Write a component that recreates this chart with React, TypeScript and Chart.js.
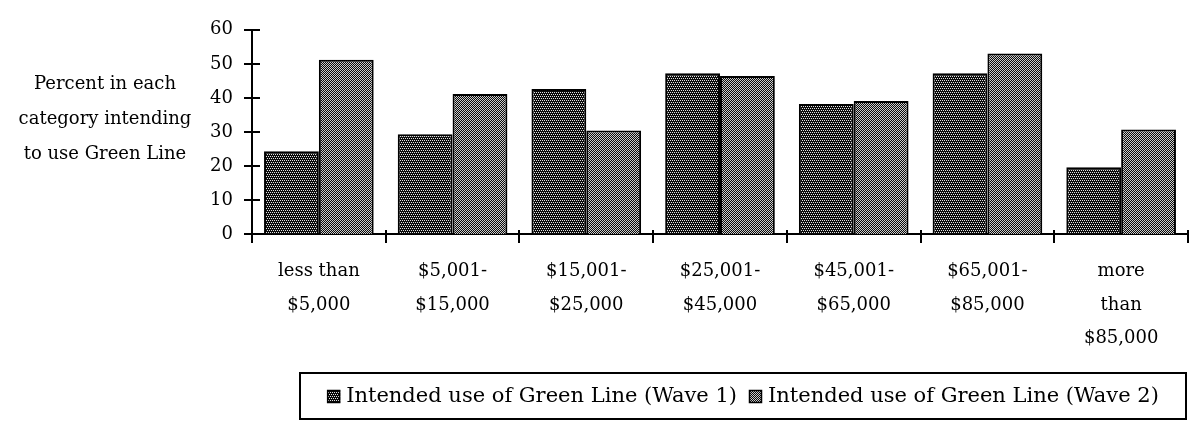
import React, { useEffect, useRef } from 'react';
import { Chart, registerables } from 'chart.js';
Chart.register(...registerables);

const categories: string[][] = [
  ['less than', '$5,000'],
  ['$5,001-', '$15,000'],
  ['$15,001-', '$25,000'],
  ['$25,001-', '$45,000'],
  ['$45,001-', '$65,000'],
  ['$65,001-', '$85,000'],
  ['more', 'than', '$85,000'],
];
const wave1 = [24.3, 29.3, 42.6, 47.2, 38.2, 47.2, 19.6];
const wave2 = [51.2, 41.1, 30.4, 46.4, 39.1, 53.0, 30.7];
const seriesLabels = ['Intended use of Green Line (Wave 1)', 'Intended use of Green Line (Wave 2)'];
const yTicks = [0, 10, 20, 30, 40, 50, 60];
const yTitleLines = ['Percent in each', 'category intending', 'to use Green Line'];

const FONT = '"DejaVu Serif", serif';

function makePattern(kind: number): CanvasPattern | string {
  const c = document.createElement('canvas');
  const size = 4;
  c.width = size;
  c.height = size;
  const g = c.getContext('2d');
  if (!g) return '#555';
  if (kind === 0) {
    g.fillStyle = '#0a0a0a';
    g.fillRect(0, 0, size, size);
    g.fillStyle = '#e4e4e4';
    [[0, 0], [2, 0], [1, 2], [3, 2]].forEach(([x, y]) => g.fillRect(x, y, 1, 1));
  } else {
    g.fillStyle = '#0a0a0a';
    g.fillRect(0, 0, size, size);
    g.fillStyle = '#cccccc';
    for (let y = 0; y < size; y++) for (let x = 0; x < size; x++) if ((x + y) % 2 === 0) g.fillRect(x, y, 1, 1);
  }
  const p = g.createPattern(c, 'repeat');
  return p || '#555';
}

export default function App() {
  const ref = useRef<HTMLCanvasElement | null>(null);
  useEffect(() => {
    if (!ref.current) return;
    const p1 = makePattern(0);
    const p2 = makePattern(1);
    const patterns = [p1, p2];

    const decor = {
      id: 'decor',
      afterDraw(chart: any) {
        const ctx = chart.ctx as CanvasRenderingContext2D;
        const area = chart.chartArea;
        const xs = chart.scales.x;
        const ys = chart.scales.y;
        ctx.save();
        ctx.strokeStyle = '#000';
        ctx.lineWidth = 2;
        yTicks.forEach((v) => {
          const y = Math.round(ys.getPixelForValue(v));
          ctx.beginPath();
          ctx.moveTo(area.left - 8, y);
          ctx.lineTo(area.left + 8, y);
          ctx.stroke();
        });
        const n = categories.length;
        for (let i = 0; i <= n; i++) {
          let x: number;
          if (i === 0) x = area.left;
          else if (i === n) x = area.right;
          else x = (xs.getPixelForTick(i - 1) + xs.getPixelForTick(i)) / 2;
          ctx.beginPath();
          ctx.moveTo(Math.round(x), area.bottom - 4);
          ctx.lineTo(Math.round(x), area.bottom + 9);
          ctx.stroke();
        }
        ctx.fillStyle = '#000';
        ctx.font = '18px ' + FONT;
        ctx.textAlign = 'center';
        ctx.textBaseline = 'middle';
        yTitleLines.forEach((t, i) => ctx.fillText(t, 105, area.top + 55 + i * 35));

        // legend
        ctx.font = '21px ' + FONT;
        const sq = 13;
        const gapSq = 6;
        const gapItem = 12;
        const widths = seriesLabels.map((l) => ctx.measureText(l).width);
        const total = widths.reduce((a, b) => a + b, 0) + seriesLabels.length * (sq + gapSq) + gapItem;
        const boxL = 300;
        const boxR = 1186;
        const boxT = area.bottom + 139;
        const boxB = area.bottom + 185;
        ctx.lineWidth = 2;
        ctx.strokeRect(boxL, boxT, boxR - boxL, boxB - boxT);
        const cy = (boxT + boxB) / 2;
        let x = (boxL + boxR) / 2 - total / 2;
        ctx.textAlign = 'left';
        seriesLabels.forEach((lab, i) => {
          ctx.fillStyle = patterns[i] as any;
          ctx.fillRect(x, cy - 6, sq, sq);
          ctx.lineWidth = 1.5;
          ctx.strokeRect(x + 0.5, cy - 5.5, sq - 1, sq - 1);
          ctx.fillStyle = '#000';
          ctx.fillText(lab, x + sq + gapSq, cy + 1);
          x += sq + gapSq + widths[i] + gapItem;
        });
        ctx.restore();
      },
    };

    const chart = new Chart(ref.current, {
      type: 'bar',
      data: {
        labels: categories,
        datasets: [
          { label: seriesLabels[0], data: wave1, backgroundColor: p1 as any, borderColor: '#000', borderWidth: 2 },
          { label: seriesLabels[1], data: wave2, backgroundColor: p2 as any, borderColor: '#000', borderWidth: 2 },
        ],
      },
      options: {
        responsive: false,
        animation: false,
        events: [],
        layout: { padding: { top: 18, right: 4, left: 0, bottom: 0 } },
        datasets: { bar: { categoryPercentage: 0.82, barPercentage: 1.0 } },
        plugins: { legend: { display: false }, tooltip: { enabled: false }, title: { display: false } },
        scales: {
          x: {
            grid: { display: false, drawTicks: false },
            border: { display: true, color: '#000', width: 2 },
            ticks: {
              color: '#000',
              font: { family: FONT, size: 18, lineHeight: 1.85 },
              padding: 21,
              maxRotation: 0,
              autoSkip: false,
            },
            afterFit(scale: any) {
              scale.height = 190;
            },
          },
          y: {
            min: 0,
            max: 60,
            grid: { display: false, drawTicks: false },
            border: { display: true, color: '#000', width: 2 },
            ticks: {
              stepSize: 10,
              color: '#000',
              font: { family: FONT, size: 18 },
              padding: 19,
            },
            afterFit(scale: any) {
              scale.width = 252;
            },
          },
        },
      },
      plugins: [decor],
    });
    return () => chart.destroy();
  }, []);

  return (
    <div style={{ position: 'fixed', left: 0, top: 0, width: 1192, height: 424, background: '#fff' }}>
      <canvas ref={ref} width={1192} height={424} style={{ display: 'block' }} />
    </div>
  );
}
